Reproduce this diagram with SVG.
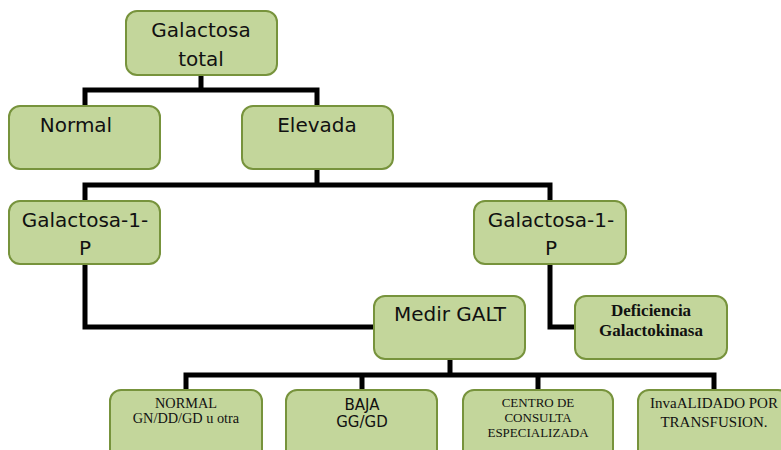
<svg xmlns="http://www.w3.org/2000/svg" width="781" height="450" viewBox="0 0 781 450">
  <style>
    .box { fill: #c3d69b; stroke: #77933c; stroke-width: 2; }
    .lnk { fill: none; stroke: #000; stroke-width: 5; stroke-linejoin: miter; stroke-linecap: square; }
    .t { font-family: "DejaVu Sans", "Liberation Sans", sans-serif; font-size: 20px; fill: #111; text-anchor: middle; }
    .ts { font-family: "DejaVu Sans", "Liberation Sans", sans-serif; font-size: 15px; fill: #111; text-anchor: middle; }
    .tr { font-family: "Liberation Serif", "Times New Roman", serif; font-size: 14.3px; fill: #111; text-anchor: middle; }
    .tb { font-family: "Liberation Serif", "Times New Roman", serif; font-size: 17px; font-weight: bold; fill: #111; text-anchor: middle; }
  </style>
  <rect width="781" height="450" fill="#fff"/>

  <g id="connectors">
    <path class="lnk" d="M201,75 V90 M85,90 H317 M85,90 V106 M317,90 V106"/>
    <path class="lnk" d="M317,169 V185 M85,185 H550 M85,185 V201 M550,185 V201"/>
    <path class="lnk" d="M85,264 V327 H373"/>
    <path class="lnk" d="M550,264 V327 H575"/>
    <path class="lnk" d="M450,359 V375 M186,375 H714 M186,375 V390 M362,375 V390 M538,375 V390 M714,375 V390"/>
  </g>

  <g id="galactosa-total">
    <rect class="box" x="126" y="11" width="151" height="64" rx="11"/>
    <text class="t" x="201" y="37">Galactosa</text>
    <text class="t" x="201" y="66">total</text>
  </g>
  <g id="normal">
    <rect class="box" x="9" y="106" width="151" height="63" rx="11"/>
    <text class="t" x="76" y="132">Normal</text>
  </g>
  <g id="elevada">
    <rect class="box" x="242" y="106" width="151" height="63" rx="11"/>
    <text class="t" x="317" y="132">Elevada</text>
  </g>
  <g id="galactosa-1p-left">
    <rect class="box" x="9" y="201" width="151" height="63" rx="11"/>
    <text class="t" x="85" y="227">Galactosa-1-</text>
    <text class="t" x="85" y="255">P</text>
  </g>
  <g id="galactosa-1p-right">
    <rect class="box" x="474" y="201" width="152" height="63" rx="11"/>
    <text class="t" x="551" y="227">Galactosa-1-</text>
    <text class="t" x="551" y="255">P</text>
  </g>
  <g id="medir-galt">
    <rect class="box" x="374" y="296" width="151" height="63" rx="11"/>
    <text class="t" x="450" y="321">Medir GALT</text>
  </g>
  <g id="deficiencia">
    <rect class="box" x="575" y="296" width="152" height="63" rx="11"/>
    <text class="tb" x="651" y="316">Deficiencia</text>
    <text class="tb" x="651" y="336">Galactokinasa</text>
  </g>
  <g id="normal-gn">
    <rect class="box" x="110" y="390" width="152" height="70" rx="11"/>
    <text class="tr" x="186" y="408">NORMAL</text>
    <text class="tr" x="186" y="423">GN/DD/GD u otra</text>
  </g>
  <g id="baja">
    <rect class="box" x="286" y="390" width="151" height="70" rx="11"/>
    <text class="ts" x="362" y="410">BAJA</text>
    <text class="ts" x="362" y="427">GG/GD</text>
  </g>
  <g id="centro">
    <rect class="box" x="463" y="390" width="150" height="70" rx="11"/>
    <text class="tr" x="538" y="407" style="font-size:13px">CENTRO DE</text>
    <text class="tr" x="538" y="422" style="font-size:13px">CONSULTA</text>
    <text class="tr" x="538" y="437" style="font-size:13px">ESPECIALIZADA</text>
  </g>
  <g id="invalidado">
    <rect class="box" x="638" y="390" width="151" height="70" rx="11"/>
    <text class="tr" x="714" y="408" style="font-size:15px">InvaALIDADO POR</text>
    <text class="tr" x="714" y="427" style="font-size:15px">TRANSFUSION.</text>
  </g>
</svg>
